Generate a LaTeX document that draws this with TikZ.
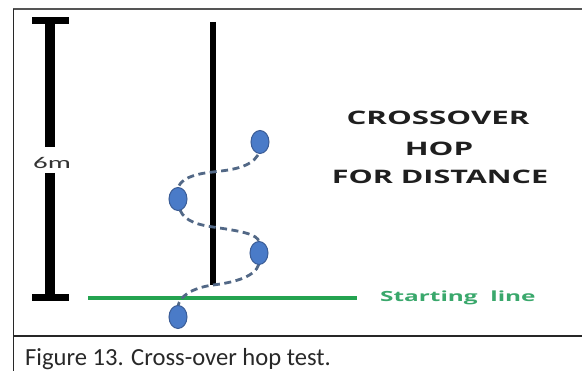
\documentclass[tikz,border=0pt]{standalone}
\usepackage{fontspec}
\setmainfont{Carlito}
\newfontfamily\titlefont{Open Sans}
\usetikzlibrary{shapes.geometric}
\definecolor{dotfill}{RGB}{74,123,200}
\definecolor{dotedge}{RGB}{58,92,150}
\definecolor{pathcol}{RGB}{82,104,134}
\definecolor{startgreen}{RGB}{36,163,80}
\definecolor{labelgreen}{RGB}{58,168,108}
\definecolor{framegray}{RGB}{85,85,85}
\definecolor{captext}{RGB}{40,40,40}
\tikzset{
  dot/.style={ellipse, fill=dotfill, draw=dotedge, line width=1pt,
    minimum width=18pt, minimum height=23pt, inner sep=0pt},
  hoppath/.style={pathcol, line width=2.8pt, dash pattern=on 7pt off 4.5pt},
  blackbar/.style={black, line width=9.5pt},
  crossbar/.style={black, line width=7pt},
  titletext/.style={font=\titlefont\bfseries\fontsize{18.6}{22}\selectfont, text=black!88, anchor=base, inner sep=0pt},
}
\newcommand{\wide}[2][1.7]{\scalebox{#1}[1]{#2}}
\begin{document}
\begin{tikzpicture}[x=1pt, y=-1pt]
\useasboundingbox (0,0) rectangle (582,371);
\fill[white] (0,0) rectangle (582,371);
% frame
\draw[framegray, line width=2.5pt] (13,9) -- (582,9);
\draw[captext, line width=1.5pt] (13.5,9) -- (13.5,371);
\draw[black!85, line width=1.5pt] (13,336) -- (582,336);
% 6 m dimension
\coordinate (dtop) at (50,21);
\coordinate (dbot) at (50,298);
\node[font=\fontsize{16.5}{19}\selectfont, text=black!80, anchor=base, inner sep=0pt] (six) at (52,168.5) {\wide[1.75]{6m}};
\coordinate (gapt) at (50,147);
\coordinate (gapb) at (50,173);
\draw[blackbar] (dtop) -- (gapt);
\draw[blackbar] (gapb) -- (dbot);
\draw[crossbar] (32,21) -- (69,21);
\draw[crossbar] (32,298) -- (69,298);
% centre line
\coordinate (ctop) at (213,22);
\coordinate (cbot) at (213,285);
\draw[black, line width=6pt] (ctop) -- (cbot);
% starting line
\coordinate (gl) at (88,298);
\coordinate (gr) at (357,298);
\draw[startgreen, line width=4pt] (gl) -- (gr);
\node[font=\titlefont\bfseries\fontsize{14}{17}\selectfont, text=labelgreen, anchor=base west, inner sep=0pt] (start) at (380,302) {\wide[1.74]{Starting~~line}};
% title
\node[titletext] (t1) at (438,124.6) {\wide[1.68]{CROSSOVER}};
\node[titletext] (t2) at (439,155.6) {\wide[1.68]{HOP}};
\node[titletext] (t3) at (440,183.6) {\wide[1.64]{FOR DISTANCE}};
% hop dots
\coordinate (x1) at (213,172);
\coordinate (x2) at (213,227);
\coordinate (x3) at (213,285);
\draw[hoppath] (258,155) .. controls (250,168) and (230,170) .. (x1) .. controls (192,174) and (179,180) .. (178,189);
\draw[hoppath] (180,210) .. controls (185,222) and (200,225) .. (x2) .. controls (240,231) and (258,234) .. (259,242);
\draw[hoppath] (259,264) .. controls (255,278) and (230,283) .. (x3) .. controls (192,288) and (180,296) .. (178,306);
\node[dot] (d1) at (260,142) {};
\node[dot] (d2) at (178,199) {};
\node[dot] (d3) at (259,253) {};
\node[dot] (d4) at (178,317) {};
% caption
\node[font=\fontsize{24.6}{28}\selectfont, text=captext, anchor=base west, inner sep=0pt] (cap) at (25,366) {Figure 13. Cross-over hop test.};
\end{tikzpicture}
\end{document}
